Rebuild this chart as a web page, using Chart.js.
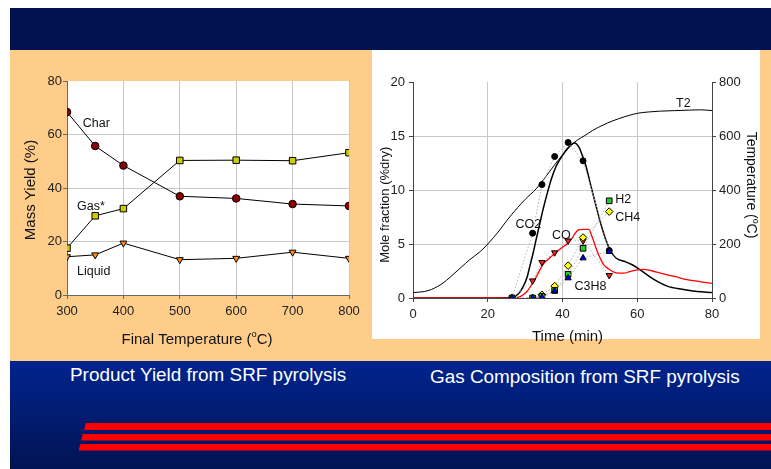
<!DOCTYPE html>
<html>
<head>
<meta charset="utf-8">
<script src="https://cdn.jsdelivr.net/npm/chart.js@4/dist/chart.umd.min.js"></script>
<style>
  html,body{margin:0;padding:0;}
  body{width:771px;height:469px;overflow:hidden;background:#fff;position:relative;font-family:"Liberation Sans",Arial,sans-serif;}
  .abs{position:absolute;}
  .title{position:absolute;color:#fff;font-size:18.9px;line-height:18.9px;white-space:nowrap;}
  .stripe{position:absolute;height:7px;background:#ff0000;clip-path:polygon(2px 0,100% 0,100% 100%,0 100%);}
</style>
</head>
<body>
<div class="abs" style="left:10px;top:8px;width:761px;height:42px;background:#021250"></div>
<div class="abs" style="left:10px;top:50px;width:761px;height:311px;background:#ffcd8a"></div>
<div class="abs" style="left:372px;top:50px;width:388px;height:289px;background:#fff"></div>
<div class="abs" style="left:10px;top:361px;width:761px;height:108px;background:linear-gradient(#00248e,#021353)"></div>
<div class="title" style="left:70px;top:365.5px">Product Yield from SRF pyrolysis</div>
<div class="title" style="left:430px;top:367.5px">Gas Composition from SRF pyrolysis</div>
<div class="stripe" style="left:84px;top:423px;width:687px"></div>
<div class="stripe" style="left:81px;top:433.5px;width:690px"></div>
<div class="stripe" style="left:78.5px;top:443.5px;width:693px"></div>
<canvas id="c1" class="abs" width="360" height="311" style="left:10px;top:50px;width:360px;height:311px"></canvas>
<canvas id="c2" class="abs" width="399" height="300" style="left:372px;top:50px;width:399px;height:300px"></canvas>
<script>
// ---------- Data: product yield ----------
const yieldTemps   = [300, 350, 400, 500, 600, 700, 800];
const charYield    = [68.4, 55.7, 48.4, 36.9, 36.1, 34.0, 33.3];
const gasYield     = [17.5, 29.6, 32.3, 50.3, 50.4, 50.2, 53.2];
const liquidYield  = [14.3, 15.0, 19.4, 13.2, 13.7, 16.0, 13.7];

// ---------- Data: gas composition (sampled points) ----------
const sampleTimes = [26.5, 32.0, 34.5, 37.9, 41.5, 45.5, 52.5];
const co2Frac     = [0, 6.0, 10.5, 13.1, 14.4, 12.7, 4.4];
const coFrac      = [0, 1.6, 3.3, 4.2, 5.3, 5.3, 2.1];
const h2Frac      = [0, 0, 0.15, 0.7, 2.2, 4.6, 9.0];
const ch4Frac     = [0, 0, 0.3, 1.1, 3.0, 5.6, 8.0];
const c3h8Frac    = [0, 0, 0.05, 0.65, 1.85, 3.7, 4.3];

// ---------- Data: continuous curves ----------
const t2Time = [0, 3, 5, 8, 10, 13, 15, 18, 20, 23, 25, 28, 30, 33, 35, 38, 40, 42, 44, 46, 48, 50, 52, 55, 58, 60, 63, 66, 70, 74, 77, 80];
const t2Temp = [20, 24, 32, 55, 78, 115, 140, 172, 200, 248, 285, 335, 365, 405, 440, 495, 530, 562, 585, 602, 620, 635, 648, 664, 677, 684, 689, 692, 694, 696, 697, 694];

const co2LineTime = [0, 20, 25, 26.5, 27.5, 28.5, 29.4, 30.5, 31.3, 32.1, 33, 34, 34.8, 36, 37, 38.3, 40, 41.5, 43.2, 44.5, 45.5, 46.3, 47.5, 49, 50.3, 51.6, 52.8, 54.3, 56.5, 58.5, 60, 62, 65, 68, 72, 76, 80];
const co2LineFrac = [0, 0, 0.02, 0.05, 0.2, 0.5, 1.0, 1.9, 3.0, 4.1, 5.5, 7.0, 8.2, 9.8, 11.0, 12.2, 13.2, 13.9, 14.35, 13.9, 13.0, 12.2, 10.5, 8.5, 6.8, 5.4, 4.4, 3.7, 3.4, 3.1, 2.8, 2.3, 1.6, 1.1, 0.8, 0.6, 0.5];

const coLineTime = [0, 20, 25, 27, 28.5, 29.5, 30.5, 31.5, 32.3, 33.2, 34.1, 35, 35.9, 37.2, 38.5, 40, 41.2, 42.3, 43.4, 44.3, 45.5, 47, 48, 49.2, 50.2, 51, 52.3, 53.7, 55, 56.4, 58, 60, 61.7, 64, 66.2, 70, 73.3, 77, 80];
const coLineFrac = [0, 0, 0, 0.02, 0.1, 0.3, 0.6, 1.1, 1.5, 2.1, 2.7, 3.2, 3.5, 3.9, 4.3, 4.7, 5.0, 5.4, 6.0, 6.3, 6.35, 6.35, 5.6, 4.4, 3.6, 3.1, 2.7, 2.4, 2.3, 2.3, 2.45, 2.6, 2.65, 2.5, 2.3, 2.0, 1.7, 1.5, 1.35];

// ---------- helpers ----------
const FONT = '"Liberation Sans", Arial, sans-serif';
Chart.defaults.font.family = FONT;
const pts = (xs, ys) => xs.map((x, i) => ({x: x, y: ys[i]}));
const TXT = '#111';

function drawRich(ctx, parts, x, y, rot, size) {
  ctx.save();
  ctx.translate(x, y);
  ctx.rotate(rot);
  const sup = size * 0.62;
  let total = 0;
  const widths = parts.map(p => {
    ctx.font = (p.sup ? sup : size) + 'px ' + FONT;
    const w = ctx.measureText(p.t).width;
    total += w;
    return w;
  });
  let cx = -total / 2;
  ctx.textAlign = 'left';
  ctx.textBaseline = 'alphabetic';
  ctx.fillStyle = TXT;
  parts.forEach((p, i) => {
    ctx.font = (p.sup ? sup : size) + 'px ' + FONT;
    ctx.fillText(p.t, cx, p.sup ? size * 0.36 - size * 0.42 : size * 0.36);
    cx += widths[i];
  });
  ctx.restore();
}

const labelPlugin = {
  id: 'labels',
  afterDraw(chart, args, opts) {
    const ctx = chart.ctx;
    ctx.save();
    ctx.fillStyle = TXT;
    ctx.textAlign = 'left';
    ctx.textBaseline = 'middle';
    ctx.font = '12.5px ' + FONT;
    (opts.items || []).forEach(it => {
      const xs = chart.scales.x, ys = chart.scales[it.axis || 'y'];
      ctx.fillText(it.text, xs.getPixelForValue(it.x), ys.getPixelForValue(it.y));
    });
    ctx.restore();
    (opts.titles || []).forEach(t => drawRich(ctx, t.parts, t.px, t.py, t.rot, t.size));
  }
};

const areaBg = {
  id: 'areaBg',
  beforeDraw(chart, args, opts) {
    if (!opts.color) return;
    const a = chart.chartArea, ctx = chart.ctx;
    ctx.save();
    ctx.fillStyle = opts.color;
    ctx.fillRect(a.left, a.top, a.right - a.left, a.bottom - a.top);
    ctx.restore();
  }
};

const GRID = '#c8c8c8';
const AXIS = '#6a6a6a';
const TICKC = '#222';

// ---------- Chart 1: product yield ----------
new Chart(document.getElementById('c1'), {
  type: 'scatter',
  data: {
    datasets: [
      {data: pts(yieldTemps, charYield), showLine: true, borderColor: '#000', borderWidth: 1,
       pointStyle: 'circle', pointRadius: 3.8, pointBackgroundColor: '#8a0000', pointBorderColor: '#000', pointBorderWidth: 1},
      {data: pts(yieldTemps, gasYield), showLine: true, borderColor: '#000', borderWidth: 1,
       pointStyle: 'rect', pointRadius: 4.6, pointBackgroundColor: '#cccc00', pointBorderColor: '#000', pointBorderWidth: 1},
      {data: pts(yieldTemps, liquidYield), showLine: true, borderColor: '#000', borderWidth: 1,
       pointStyle: 'triangle', pointRotation: 180, pointRadius: 4, pointBackgroundColor: '#ff8c1a', pointBorderColor: '#000', pointBorderWidth: 1}
    ]
  },
  options: {
    responsive: false, animation: false, devicePixelRatio: 1,
    layout: {padding: {top: 31, right: 21, left: 0, bottom: 0}},
    plugins: {
      legend: {display: false}, tooltip: {enabled: false},
      areaBg: {color: '#ffffff'},
      labels: {
        items: [
          {text: 'Char', x: 328, y: 64.1},
          {text: 'Gas*', x: 317.7, y: 33.0},
          {text: 'Liquid', x: 317.7, y: 8.6}
        ],
        titles: [
          {parts: [{t: 'Mass Yield (%)'}], px: 19.7, py: 140, rot: -Math.PI / 2, size: 15},
          {parts: [{t: 'Final Temperature ('}, {t: 'o', sup: true}, {t: 'C)'}], px: 187, py: 288.3, rot: 0, size: 15}
        ]
      }
    },
    scales: {
      x: {
        type: 'linear', min: 300, max: 800,
        ticks: {stepSize: 100, font: {size: 13}, color: TICKC, padding: 5},
        grid: {color: c => (c.tick && c.tick.value === 300) ? 'rgba(0,0,0,0)' : GRID, tickColor: AXIS, tickLength: 4},
        border: {color: AXIS, width: 1},
        afterFit: s => { s.height = 66; }
      },
      y: {
        min: 0, max: 80,
        ticks: {stepSize: 20, font: {size: 13}, color: TICKC, padding: 1},
        grid: {color: c => (c.tick && (c.tick.value === 80 || c.tick.value === 0)) ? 'rgba(0,0,0,0)' : GRID, tickColor: AXIS, tickLength: 4},
        border: {color: AXIS, width: 1},
        afterFit: s => { s.width = 57; }
      }
    }
  },
  plugins: [areaBg, labelPlugin]
});

// ---------- Chart 2: gas composition ----------
const dotted = {showLine: true, borderColor: '#b0b0b0', borderWidth: 1, borderDash: [1.5, 2], pointBorderColor: '#000', pointBorderWidth: 1};
new Chart(document.getElementById('c2'), {
  type: 'scatter',
  data: {
    datasets: [
      Object.assign({data: pts(sampleTimes, c3h8Frac), pointStyle: 'triangle', pointRadius: 3.6, pointBackgroundColor: '#0000ff'}, dotted),
      Object.assign({data: pts(sampleTimes, h2Frac), pointStyle: 'rect', pointRadius: 4, pointBackgroundColor: '#22cc22'}, dotted),
      Object.assign({data: pts(sampleTimes, ch4Frac), pointStyle: 'rectRot', pointRadius: 3.8, pointBackgroundColor: '#ffff00'}, dotted),
      Object.assign({data: pts(sampleTimes, coFrac), pointStyle: 'triangle', pointRotation: 180, pointRadius: 3.6, pointBackgroundColor: '#ff2020'}, dotted),
      Object.assign({data: pts(sampleTimes, co2Frac), pointStyle: 'circle', pointRadius: 3, pointBackgroundColor: '#000'}, dotted),
      {data: pts(coLineTime, coLineFrac), showLine: true, pointRadius: 0, borderColor: '#ff0000', borderWidth: 1.3, cubicInterpolationMode: 'monotone'},
      {data: pts(co2LineTime, co2LineFrac), showLine: true, pointRadius: 0, borderColor: '#000', borderWidth: 1.5, cubicInterpolationMode: 'monotone'},
      {data: pts(t2Time, t2Temp), yAxisID: 'y1', showLine: true, pointRadius: 0, borderColor: '#000', borderWidth: 1, cubicInterpolationMode: 'monotone'}
    ]
  },
  options: {
    responsive: false, animation: false, devicePixelRatio: 1,
    layout: {padding: {top: 32, right: 0, left: 0, bottom: 0}},
    plugins: {
      legend: {display: false}, tooltip: {enabled: false},
      labels: {
        items: [
          {text: 'T2', x: 70.4, y: 18.05},
          {text: 'CO2', x: 27.4, y: 6.84},
          {text: 'CO', x: 37.2, y: 5.82},
          {text: 'H2', x: 54.1, y: 9.14},
          {text: 'CH4', x: 54.1, y: 7.47},
          {text: 'C3H8', x: 43.2, y: 1.09}
        ],
        titles: [
          {parts: [{t: 'Mole fraction (%dry)'}], px: 12, py: 154.7, rot: -Math.PI / 2, size: 13},
          {parts: [{t: 'Temperature ('}, {t: 'o', sup: true}, {t: 'C)'}], px: 380.5, py: 135, rot: Math.PI / 2, size: 14},
          {parts: [{t: 'Time (min)'}], px: 195.5, py: 286, rot: 0, size: 15}
        ]
      }
    },
    scales: {
      x: {
        type: 'linear', min: 0, max: 80,
        ticks: {stepSize: 20, font: {size: 13}, color: TICKC, padding: 5},
        grid: {color: c => (c.tick && (c.tick.value === 0 || c.tick.value === 80)) ? 'rgba(0,0,0,0)' : GRID, tickColor: '#444', tickLength: 4},
        border: {color: '#444', width: 1},
        afterFit: s => { s.height = 52; }
      },
      y: {
        position: 'left', min: 0, max: 20,
        ticks: {stepSize: 5, font: {size: 13}, color: TICKC, padding: 4},
        grid: {color: c => (c.tick && (c.tick.value === 0 || c.tick.value === 20)) ? 'rgba(0,0,0,0)' : GRID, tickColor: '#444', tickLength: 4},
        border: {color: '#444', width: 1},
        afterFit: s => { s.width = 41; }
      },
      y1: {
        position: 'right', min: 0, max: 800,
        ticks: {stepSize: 200, font: {size: 13}, color: TICKC, padding: 3},
        grid: {drawOnChartArea: false, tickColor: '#444', tickLength: 4},
        border: {color: '#444', width: 1},
        afterFit: s => { s.width = 59; }
      }
    }
  },
  plugins: [labelPlugin]
});
</script>
</body>
</html>
